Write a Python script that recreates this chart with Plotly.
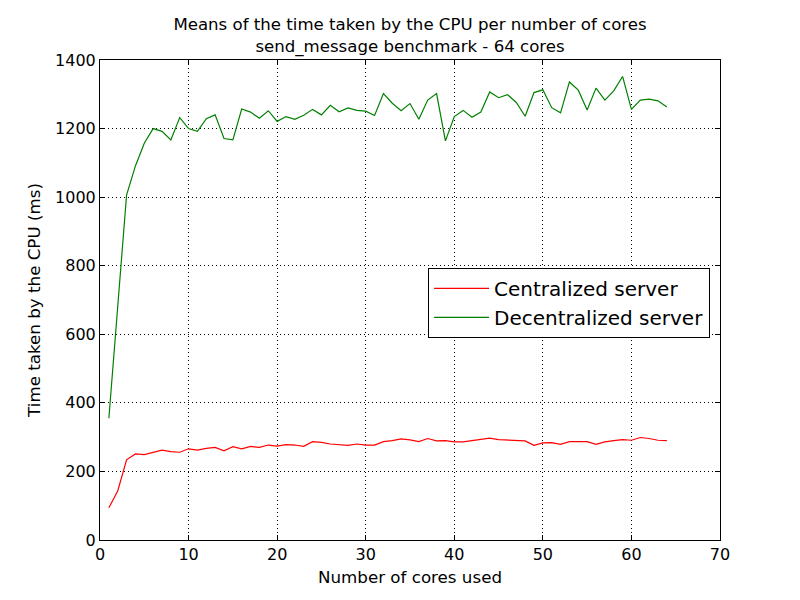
import plotly.graph_objects as go

cores = list(range(1, 65))

centralized = [94, 143, 234, 251, 249, 256, 262, 258, 256, 266, 262, 267, 270, 260, 272, 266,
               273, 270, 277, 274, 278, 277, 273, 287, 285, 280, 278, 276, 280, 277, 277, 287,
               290, 295, 292, 287, 296, 289, 290, 286, 286, 290, 293, 297, 293, 292, 292, 289,
               276, 283, 284, 279, 287, 287, 287, 279, 286, 290, 293, 291, 299, 296, 291, 290]

decentralized = [355, 690, 1006, 1091, 1157, 1200, 1192, 1167, 1232, 1200, 1192, 1229, 1240, 1171,
                 1167, 1257, 1248, 1230, 1252, 1221, 1235, 1227, 1239, 1256, 1240, 1268, 1249, 1260,
                 1253, 1251, 1238, 1302, 1274, 1252, 1273, 1227, 1283, 1302, 1164, 1235, 1253, 1233,
                 1248, 1307, 1290, 1299, 1276, 1236, 1305, 1313, 1261, 1246, 1336, 1312, 1254, 1318,
                 1283, 1310, 1352, 1256, 1283, 1286, 1281, 1263]

title_lines = ["Means of the time taken by the CPU per number of cores",
               "send_message benchmark - 64 cores"]

FONT = "DejaVu Sans"

fig = go.Figure()
fig.add_trace(go.Scatter(x=cores, y=centralized, mode="lines", name="Centralized server",
                         line=dict(color="#ff0000", width=1.2)))
fig.add_trace(go.Scatter(x=cores, y=decentralized, mode="lines", name="Decentralized server",
                         line=dict(color="#008000", width=1.2)))

axis_common = dict(
    showline=True, linecolor="black", linewidth=1, mirror="ticks",
    ticks="inside", ticklen=5, tickcolor="black",
    showgrid=True, gridcolor="black", griddash="1px,3px", gridwidth=1,
    zeroline=False, tickfont=dict(family=FONT, size=16, color="black"),
)

fig.update_layout(
    width=800, height=600,
    paper_bgcolor="white", plot_bgcolor="white",
    margin=dict(l=100, r=80, t=60, b=60),
    font=dict(family=FONT, color="black"),
    title=dict(text="<br>".join(title_lines), x=0.5125, xanchor="center",
               y=0.95, yanchor="top",
               font=dict(family=FONT, size=16.6, color="black")),
    xaxis=dict(range=[0, 70], dtick=10,
               title=dict(text="Number of cores used", font=dict(family=FONT, size=16.7), standoff=8),
               **axis_common),
    yaxis=dict(range=[0, 1400], dtick=200,
               title=dict(text="Time taken by the CPU (ms)", font=dict(family=FONT, size=16.7), standoff=10),
               **axis_common),
    legend=dict(x=0.984, xanchor="right", y=0.567, yanchor="top",
                bgcolor="white", bordercolor="black", borderwidth=1,
                font=dict(family=FONT, size=20, color="black"),
                itemwidth=55, tracegroupgap=0),
    showlegend=True,
)

fig.write_html("out.html", config={"displayModeBar": False},
               post_script="document.body.style.margin='0';")
